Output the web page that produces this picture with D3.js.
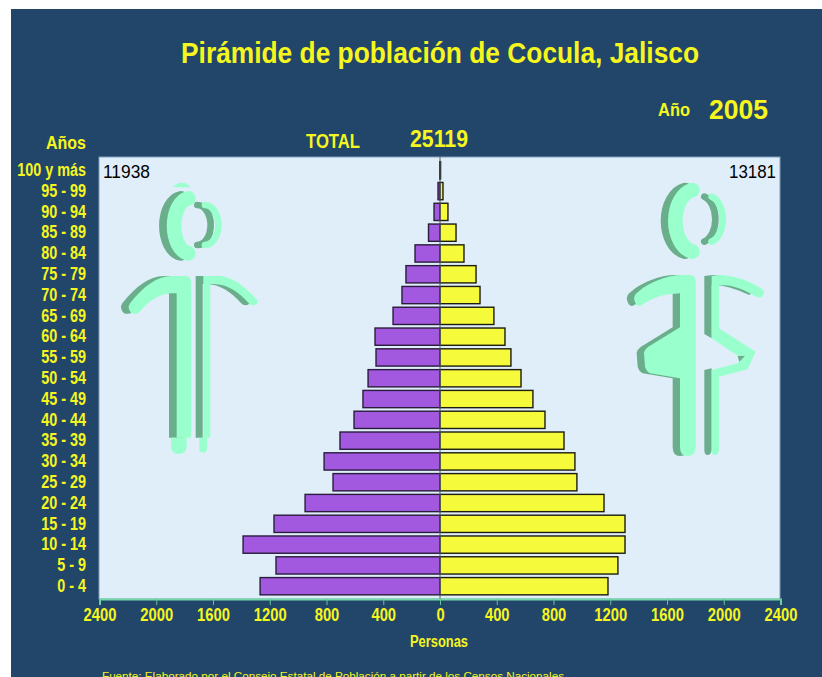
<!DOCTYPE html>
<html>
<head>
<meta charset="utf-8">
<script src="https://cdn.jsdelivr.net/npm/d3@7"></script>
<style>
html, body { margin: 0; padding: 0; background: #fff; overflow: hidden; }
svg { display: block; }
.lbl { font-family: "Liberation Sans", sans-serif; font-weight: bold; fill: #f6f61e; }
.cnt { font-family: "Liberation Sans", sans-serif; fill: #000; }
</style>
</head>
<body>
<script>
// Data
var ages = ['100 y más', '95 - 99', '90 - 94', '85 - 89', '80 - 84', '75 - 79', '70 - 74', '65 - 69', '60 - 64', '55 - 59', '50 - 54',
	'45 - 49', '40 - 44', '35 - 39', '30 - 34', '25 - 29', '20 - 24', '15 - 19', '10 - 14', '5 - 9', '0 - 4'];
var hombres = [2, 14, 42, 81, 176, 240, 268, 331, 458, 451, 507, 543, 606, 705, 817, 754, 951, 1170, 1388, 1156, 1268];
var mujeres = [4, 21, 56, 113, 169, 254, 282, 380, 458, 500, 571, 655, 740, 874, 951, 965, 1156, 1304, 1304, 1254, 1184];
var xTicks = [-2400, -2000, -1600, -1200, -800, -400, 0, 400, 800, 1200, 1600, 2000, 2400];

const navy = '#22466a';
const plotBg = '#e0eefa';
const purple = '#a259e0';
const yellow = '#f5fb3a';
const mint = '#99ffcc';
const mintDark = '#6aae8c';

const svg = d3.select('body').append('svg')
	.attr('width', 822)
	.attr('height', 677);

svg.append('rect').attr('x', 11).attr('y', 9).attr('width', 811).attr('height', 668).attr('fill', navy);

const plot = { left: 99, right: 780, top: 157, bottom: 599 };

svg.append('rect')
	.attr('x', plot.left).attr('y', plot.top)
	.attr('width', plot.right - plot.left).attr('height', plot.bottom - plot.top)
	.attr('fill', plotBg).attr('stroke', '#7f9cb8').attr('stroke-width', 1);

const xScale = d3.scaleLinear().domain([-2400, 2400]).range([plot.left + 0.5, plot.right + 0.5]);
const yScale = d3.scaleBand().domain(ages).range([160, 596.5]).paddingInner(0.17).paddingOuter(0.08);

//************************************************************
// Icons, traced in a 3x space
//************************************************************
function drawIcon(x, y, head, arc, shapes, shadowShapes, shift) {
	const g = svg.append('g').attr('transform', 'translate(' + x + ',' + y + ') scale(0.3333)');
	[{ c: mintDark, dx: -shift, s: shadowShapes }, { c: mint, dx: 0, s: shapes }].forEach(function (l) {
		const lg = g.append('g').attr('transform', 'translate(' + l.dx + ',0)');
		lg.append('path').attr('d', head.d).attr('fill', 'none').attr('stroke', l.c)
			.attr('stroke-width', head.w).attr('stroke-linecap', 'round');
		lg.append('path').attr('d', arc.d).attr('fill', 'none').attr('stroke', l.c)
			.attr('stroke-width', arc.w).attr('stroke-linecap', 'round');
		l.s.forEach(function (d) {
			lg.append('path').attr('d', d).attr('fill', l.c);
		});
	});
	return g;
}

const manBody = ['M258,318 Q273,320 273,335 L273,803 L230,803 L230,370 L215,370 C175,372 145,395 120,425 Q110,435 95,430 Q80,415 90,400 C130,350 170,318 215,318 Z',
	'M310,318 L360,318 C400,320 440,355 472,390 Q476,405 460,406 Q452,406 445,398 C420,370 385,342 340,342 L331,342 L331,803 L310,803 Z'];

const man = drawIcon(100, 170,
	{ d: 'M265,85 A48,83 0 0 0 265,250', w: 44 },
	{ d: 'M315,105 A40,60 0 0 1 315,225', w: 20 },
	manBody, manBody, 23);
man.append('path').attr('d', 'M218,52 Q245,25 273,52 Z').attr('fill', mint);
man.append('path').attr('d', 'M213,803 L260,803 L260,830 Q258,852 236,852 Q213,852 213,825 Z').attr('fill', mint);
man.append('path').attr('d', 'M298,803 L321,803 L321,838 Q320,848 309,848 Q298,848 298,838 Z').attr('fill', mint);

const womanLeft = 'M270,375 Q287,375 287,395 L287,890 Q287,918 262,918 Q240,918 240,890 L240,685 L150,670 Q140,665 135,650 L132,610 Q132,600 145,590 L240,532 L240,430 L215,432 C180,436 155,445 125,465 Q110,475 103,450 Q100,435 115,425 C150,395 200,378 240,375 Z';

drawIcon(600, 150,
	{ d: 'M277,120 A62,94 0 0 0 277,305', w: 44 },
	{ d: 'M335,140 A45,70 0 0 1 335,275', w: 20 },
	[womanLeft,
		'M335,378 L360,375 C410,378 455,395 490,420 Q498,435 480,443 Q470,443 455,433 C425,415 395,405 357,405 L357,535 L467,605 L443,658 L357,680 L357,900 Q355,915 345,915 Q335,915 335,900 L335,660 L413,640 L437,617 L413,617 L335,565 Z'],
	[womanLeft,
		'M335,378 L360,375 C410,378 455,395 490,420 L470,435 C425,415 395,405 357,405 L357,565 L335,552 Z',
		'M335,660 L357,655 L357,900 Q355,915 345,915 Q335,915 335,900 Z',
		'M435,617 L458,617 L440,637 Z'],
	22);

//************************************************************
// Bars
//************************************************************
svg.selectAll('.hombre')
	.data(hombres)
	.enter()
	.append('rect')
	.attr('class', 'hombre')
	.attr('x', function (d) { return xScale(-d); })
	.attr('y', function (d, i) { return yScale(ages[i]); })
	.attr('width', function (d) { return xScale(0) - xScale(-d); })
	.attr('height', yScale.bandwidth())
	.attr('fill', purple)
	.attr('stroke', '#2a1c3c')
	.attr('stroke-width', 1.4);

svg.selectAll('.mujer')
	.data(mujeres)
	.enter()
	.append('rect')
	.attr('class', 'mujer')
	.attr('x', xScale(0))
	.attr('y', function (d, i) { return yScale(ages[i]); })
	.attr('width', function (d) { return xScale(d) - xScale(0); })
	.attr('height', yScale.bandwidth())
	.attr('fill', yellow)
	.attr('stroke', '#1c1c10')
	.attr('stroke-width', 1.4);

svg.append('line')
	.attr('x1', xScale(0)).attr('x2', xScale(0))
	.attr('y1', plot.top).attr('y2', plot.bottom)
	.attr('stroke', '#54606c').attr('stroke-width', 1);

//************************************************************
// Axes
//************************************************************
// no narrow font installed, so squeeze the glyphs to the width they have in the picture
function squeeze(sel, factor) {
	sel.each(function () {
		d3.select(this)
			.attr('textLength', this.getComputedTextLength() * factor)
			.attr('lengthAdjust', 'spacingAndGlyphs');
	});
}

const xAxis = d3.axisBottom(xScale)
	.tickValues(xTicks)
	.tickSize(6)
	.tickPadding(3)
	.tickFormat(function (d) { return Math.abs(d); });

const gx = svg.append('g')
	.attr('transform', 'translate(0,' + plot.bottom + ')')
	.call(xAxis);
gx.select('.domain').attr('stroke', '#74d8a8').attr('stroke-width', 2);
gx.selectAll('.tick line').attr('stroke', '#5fc79a').attr('stroke-width', 1);
gx.selectAll('.tick text').attr('class', 'lbl').style('font-size', '18px').call(squeeze, 0.82);

const gy = svg.append('g')
	.attr('transform', 'translate(86,0)')
	.call(d3.axisLeft(yScale).tickSize(0).tickPadding(0));
gy.select('.domain').remove();
gy.selectAll('.tick text').attr('class', 'lbl').style('font-size', '18px').call(squeeze, 0.8);

//************************************************************
// Texts
//************************************************************
function label(x, y, str, size, anchor, cls, len) {
	const t = svg.append('text')
		.attr('class', cls || 'lbl')
		.attr('x', x).attr('y', y)
		.attr('text-anchor', anchor || 'start')
		.style('font-size', size + 'px')
		.text(str);
	if (len) t.attr('textLength', len).attr('lengthAdjust', 'spacingAndGlyphs');
	return t;
}

label(440, 63, 'Pirámide de población de Cocula, Jalisco', 29, 'middle', 'lbl', 518);
label(658, 116, 'Año', 18, 'start', 'lbl', 32);
label(709, 119, '2005', 28, 'start', 'lbl', 59);
label(306, 148, 'TOTAL', 20, 'start', 'lbl', 54);
label(410, 147, '25119', 24, 'start', 'lbl', 58);
label(86, 149, 'Años', 19, 'end', 'lbl', 40);
label(103, 178, '11938', 18, 'start', 'cnt', 47);
label(776, 178, '13181', 18, 'end', 'cnt', 47);
label(439, 647, 'Personas', 16, 'middle', 'lbl', 58);
label(102, 680, 'Fuente: Elaborado por el Consejo Estatal de Población a partir de los Censos Nacionales', 11, 'start', 'lbl', 462)
	.style('font-weight', 'normal');
</script>
</body>
</html>
